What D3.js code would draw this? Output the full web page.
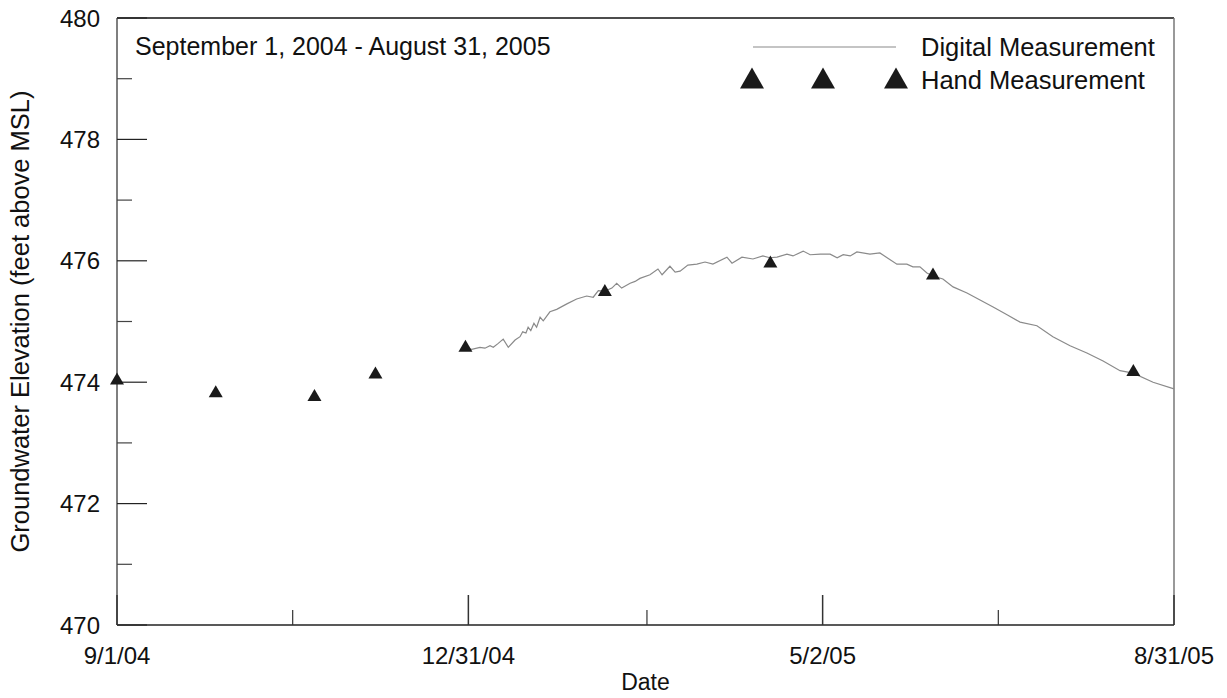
<!DOCTYPE html>
<html>
<head>
<meta charset="utf-8">
<script src="https://cdn.jsdelivr.net/npm/d3@7"></script>
<style>
  body { margin: 0; background: #fff; }
  text { font-family: "Liberation Sans", Arial, sans-serif; fill: #111; }
</style>
</head>
<body>
<script>
// Hand measurements (date, feet above MSL)
var handDates = ["2004-09-01", "2004-10-05", "2004-11-08", "2004-11-29", "2004-12-30",
                 "2005-02-16", "2005-04-14", "2005-06-09", "2005-08-17"];
var handElev = [474.04, 473.83, 473.77, 474.14, 474.58, 475.50, 475.97, 475.77, 474.18];

// Digital (logger) record
var digitalDates = ["2004-12-30T12:00", "2005-01-01T04:00", "2005-01-04T00:00", "2005-01-05T17:00",
  "2005-01-07T11:00", "2005-01-08T14:00", "2005-01-10T07:00", "2005-01-12T00:00", "2005-01-13T18:00",
  "2005-01-16T02:00", "2005-01-17T19:00", "2005-01-18T17:00", "2005-01-19T20:00", "2005-01-20T14:00",
  "2005-01-21T12:00", "2005-01-22T14:00", "2005-01-23T12:00", "2005-01-24T17:00", "2005-01-25T19:00",
  "2005-01-28T02:00", "2005-01-30T10:00", "2005-02-02T22:00", "2005-02-06T07:00", "2005-02-09T18:00",
  "2005-02-12T00:00", "2005-02-13T18:00", "2005-02-16T01:00", "2005-02-18T10:00", "2005-02-20T02:00",
  "2005-02-21T19:00", "2005-02-24T17:00", "2005-02-26T10:00", "2005-02-28T02:00", "2005-03-03T13:00",
  "2005-03-06T07:00", "2005-03-07T17:00", "2005-03-10T10:00", "2005-03-12T05:00", "2005-03-13T22:00",
  "2005-03-16T14:00", "2005-03-19T17:00", "2005-03-22T12:00", "2005-03-25T05:00", "2005-03-30T01:00",
  "2005-03-31T19:00", "2005-04-04T05:00", "2005-04-08T00:00", "2005-04-11T10:00", "2005-04-13T19:00",
  "2005-04-16T07:00", "2005-04-19T17:00", "2005-04-21T19:00", "2005-04-25T07:00", "2005-04-27T17:00",
  "2005-05-01T05:00", "2005-05-04T14:00", "2005-05-07T00:00", "2005-05-09T02:00", "2005-05-11T12:00",
  "2005-05-13T19:00", "2005-05-18T07:00", "2005-05-21T17:00", "2005-05-24T05:00", "2005-05-27T14:00",
  "2005-05-31T00:00", "2005-06-02T02:00", "2005-06-04T12:00", "2005-06-06T22:00", "2005-06-09T00:00",
  "2005-06-12T10:00", "2005-06-15T22:00", "2005-06-20T17:00", "2005-06-25T05:00", "2005-06-29T17:00",
  "2005-07-04T12:00", "2005-07-09T00:00", "2005-07-14T19:00", "2005-07-20T07:00", "2005-07-26T05:00",
  "2005-08-01T00:00", "2005-08-06T14:00", "2005-08-12T10:00", "2005-08-16T22:00", "2005-08-23T19:00",
  "2005-08-31T00:00"];
var digitalElev = [474.56, 474.54, 474.575, 474.56,
  474.60, 474.575, 474.64, 474.71, 474.575,
  474.695, 474.75, 474.83, 474.81, 474.905,
  474.85, 474.97, 474.905, 475.07, 475.01,
  475.16, 475.20, 475.29, 475.37, 475.42,
  475.40, 475.51, 475.50, 475.55, 475.63,
  475.55, 475.63, 475.66, 475.71, 475.77,
  475.865, 475.77, 475.91, 475.815, 475.83,
  475.93, 475.945, 475.98, 475.945, 476.06,
  475.96, 476.06, 476.03, 476.08, 476.05,
  476.06, 476.11, 476.08, 476.16, 476.10,
  476.11, 476.11, 476.05, 476.10, 476.08,
  476.145, 476.11, 476.13, 476.05, 475.945,
  475.945, 475.90, 475.90, 475.80, 475.75,
  475.70, 475.57, 475.47, 475.355, 475.24,
  475.11, 474.99, 474.93, 474.75, 474.60,
  474.48, 474.35, 474.19, 474.15, 474.00,
  473.89];

var xMajor = ["2004-09-01", "2004-12-31", "2005-05-02", "2005-08-31"];
var xLabels = ["9/1/04", "12/31/04", "5/2/05", "8/31/05"];
var xMinor = ["2004-10-31T12:00", "2005-03-02T12:00", "2005-07-01T12:00"];
var yMajor = [470, 472, 474, 476, 478, 480];
var yMinor = [471, 473, 475, 477, 479];

var parse = d3.isoParse;
var width = 1227, height = 698;
var margin = {top: 18, right: 53, bottom: 73, left: 117};

var svg = d3.select("body").append("svg")
  .attr("width", width)
  .attr("height", height);

var x = d3.scaleTime()
  .domain([parse("2004-09-01"), parse("2005-08-31")])
  .range([margin.left, width - margin.right]);

var y = d3.scaleLinear()
  .domain([470, 480])
  .range([height - margin.bottom, margin.top]);

var x0 = margin.left, x1 = width - margin.right;
var y0 = height - margin.bottom, y1 = margin.top;

// frame: top and right
svg.append("line").attr("x1", x0).attr("x2", x1).attr("y1", y1).attr("y2", y1)
  .attr("stroke", "#111").attr("stroke-width", 1.5);
svg.append("line").attr("x1", x1).attr("x2", x1).attr("y1", y1).attr("y2", y0)
  .attr("stroke", "#777").attr("stroke-width", 1.5);

// y axis
var yAxis = svg.append("g");
yAxis.append("line").attr("x1", x0).attr("x2", x0).attr("y1", y1).attr("y2", y0)
  .attr("stroke", "#555").attr("stroke-width", 1.5);
yAxis.selectAll(".ymaj").data(yMajor).enter().append("line")
  .attr("x1", x0).attr("x2", x0 + 30)
  .attr("y1", d => y(d)).attr("y2", d => y(d))
  .attr("stroke", "#222").attr("stroke-width", 1.2);
yAxis.selectAll(".ymin").data(yMinor).enter().append("line")
  .attr("x1", x0).attr("x2", x0 + 15)
  .attr("y1", d => y(d)).attr("y2", d => y(d))
  .attr("stroke", "#444").attr("stroke-width", 1.2);
yAxis.selectAll(".ylab").data(yMajor).enter().append("text")
  .attr("x", x0 - 17).attr("y", d => y(d))
  .attr("dy", "0.36em")
  .attr("text-anchor", "end")
  .style("font-size", "24px")
  .text(d => d);

// x axis
var xAxis = svg.append("g");
xAxis.append("line").attr("x1", x0).attr("x2", x1).attr("y1", y0).attr("y2", y0)
  .attr("stroke", "#222").attr("stroke-width", 1.5);
xAxis.selectAll(".xmaj").data(xMajor).enter().append("line")
  .attr("x1", d => x(parse(d))).attr("x2", d => x(parse(d)))
  .attr("y1", y0).attr("y2", y0 - 30)
  .attr("stroke", "#333").attr("stroke-width", 1.5);
xAxis.selectAll(".xmin").data(xMinor).enter().append("line")
  .attr("x1", d => x(parse(d))).attr("x2", d => x(parse(d)))
  .attr("y1", y0).attr("y2", y0 - 15)
  .attr("stroke", "#333").attr("stroke-width", 1.2);
xAxis.selectAll(".xlab").data(xMajor).enter().append("text")
  .attr("x", d => x(parse(d))).attr("y", y0 + 39)
  .attr("text-anchor", "middle")
  .style("font-size", "24px")
  .text((d, i) => xLabels[i]);

// axis titles
svg.append("text")
  .attr("x", (x0 + x1) / 2).attr("y", height - 8)
  .attr("text-anchor", "middle")
  .style("font-size", "23px")
  .text("Date");
svg.append("text")
  .attr("transform", "translate(29," + ((y0 + y1) / 2) + ") rotate(-90)")
  .attr("text-anchor", "middle")
  .style("font-size", "25.5px")
  .text("Groundwater Elevation (feet above MSL)");

// digital trace
var digital = digitalDates.map((d, i) => ({date: parse(d), value: digitalElev[i]}));
var line = d3.line().x(d => x(d.date)).y(d => y(d.value));
svg.append("path")
  .datum(digital)
  .attr("fill", "none")
  .attr("stroke", "#8a8a8a")
  .attr("stroke-width", 1.2)
  .attr("d", line);

// hand measurement triangles
function tri(w, h) {
  return "M0," + (-h * 0.6) + "L" + (w / 2) + "," + (h * 0.4) + "L" + (-w / 2) + "," + (h * 0.4) + "Z";
}
var hand = handDates.map((d, i) => ({date: parse(d), value: handElev[i]}));
svg.selectAll(".hand").data(hand).enter().append("path")
  .attr("transform", d => "translate(" + x(d.date) + "," + y(d.value) + ")")
  .attr("d", tri(14, 12))
  .attr("fill", "#1a1a1a");

// period label
svg.append("text")
  .attr("x", 135).attr("y", 55)
  .style("font-size", "25px")
  .text("September 1, 2004 - August 31, 2005");

// legend
svg.append("line").attr("x1", 753).attr("x2", 896).attr("y1", 47).attr("y2", 47)
  .attr("stroke", "#8a8a8a").attr("stroke-width", 1.2);
svg.selectAll(".legtri").data([752, 823, 896]).enter().append("path")
  .attr("transform", d => "translate(" + d + ",80)")
  .attr("d", tri(24, 21))
  .attr("fill", "#1a1a1a");
svg.append("text").attr("x", 921).attr("y", 56)
  .style("font-size", "25.5px").text("Digital Measurement");
svg.append("text").attr("x", 921).attr("y", 89)
  .style("font-size", "25.5px").text("Hand Measurement");
</script>
</body>
</html>
